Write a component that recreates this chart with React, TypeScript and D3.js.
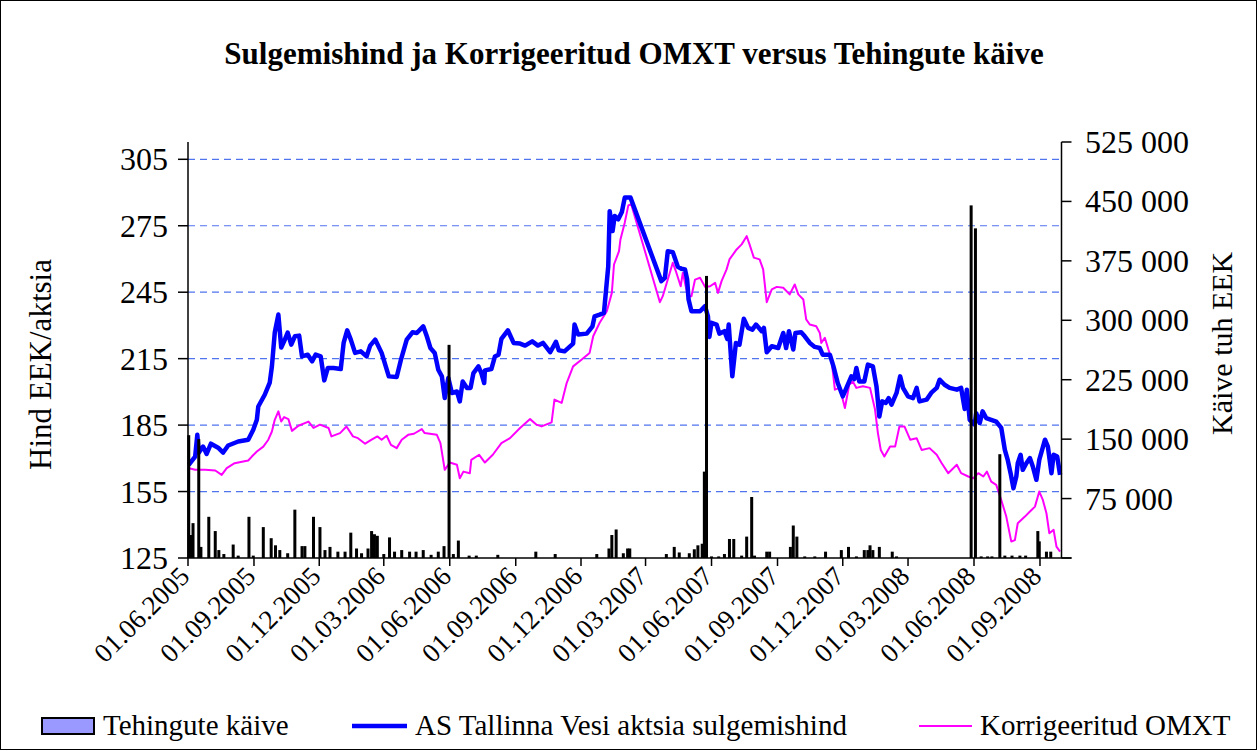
import React, { useEffect, useRef } from 'react';
import * as d3 from 'd3';

// AS Tallinna Vesi closing price, EEK per share
const closingPrice: [string, number][] = [
  ['2005-06-02', 167.1], ['2005-06-11', 170.8], ['2005-06-14', 180.6], ['2005-06-16', 172.5],
  ['2005-06-22', 175.3], ['2005-06-27', 172.0], ['2005-07-03', 176.6], ['2005-07-13', 174.8],
  ['2005-07-20', 172.6], ['2005-07-27', 175.8], ['2005-08-10', 177.6], ['2005-08-24', 178.4],
  ['2005-08-31', 182.9], ['2005-09-05', 187.4], ['2005-09-07', 193.4], ['2005-09-16', 198.7],
  ['2005-09-23', 204.2], ['2005-09-26', 211.5], ['2005-09-30', 226.8], ['2005-10-05', 234.9],
  ['2005-10-09', 220.0], ['2005-10-13', 222.8], ['2005-10-18', 226.8], ['2005-10-23', 221.3],
  ['2005-10-28', 225.1], ['2005-11-03', 225.4], ['2005-11-07', 216.0], ['2005-11-15', 216.8],
  ['2005-11-21', 213.8], ['2005-11-26', 216.8], ['2005-12-03', 216.0], ['2005-12-08', 205.2],
  ['2005-12-13', 210.8], ['2005-12-21', 210.8], ['2005-12-31', 210.3], ['2006-01-04', 222.1],
  ['2006-01-09', 227.8], ['2006-01-14', 223.6], ['2006-01-20', 217.6], ['2006-01-28', 218.3],
  ['2006-02-05', 216.0], ['2006-02-10', 220.9], ['2006-02-17', 223.6], ['2006-02-26', 217.6],
  ['2006-03-08', 207.0], ['2006-03-19', 206.7], ['2006-03-25', 214.6], ['2006-04-02', 223.6],
  ['2006-04-10', 226.9], ['2006-04-16', 226.6], ['2006-04-25', 229.6], ['2006-04-30', 225.1],
  ['2006-05-05', 219.8], ['2006-05-11', 217.6], ['2006-05-16', 210.0], ['2006-05-21', 207.0],
  ['2006-05-25', 197.2], ['2006-05-30', 206.3], ['2006-06-04', 199.5], ['2006-06-11', 200.2],
  ['2006-06-15', 195.7], ['2006-06-19', 204.7], ['2006-06-25', 201.8], ['2006-06-30', 201.8],
  ['2006-07-04', 208.5], ['2006-07-11', 211.5], ['2006-07-15', 208.5], ['2006-07-19', 204.0],
  ['2006-07-20', 209.7], ['2006-07-29', 210.3], ['2006-08-03', 216.0], ['2006-08-08', 216.8],
  ['2006-08-12', 223.9], ['2006-08-21', 227.8], ['2006-08-29', 222.1], ['2006-09-07', 221.8],
  ['2006-09-14', 220.9], ['2006-09-24', 222.8], ['2006-10-02', 220.9], ['2006-10-09', 222.1],
  ['2006-10-19', 217.9], ['2006-10-27', 222.6], ['2006-10-31', 218.8], ['2006-11-08', 218.3],
  ['2006-11-20', 221.8], ['2006-11-22', 230.4], ['2006-11-27', 225.9], ['2006-12-09', 226.3],
  ['2006-12-17', 229.6], ['2006-12-20', 234.1], ['2006-12-27', 234.9], ['2007-01-02', 235.7],
  ['2007-01-05', 246.2], ['2007-01-08', 256.7], ['2007-01-10', 281.6], ['2007-01-14', 272.6],
  ['2007-01-17', 279.4], ['2007-01-22', 277.9], ['2007-01-27', 281.2], ['2007-01-31', 287.7],
  ['2007-02-08', 287.7], ['2007-03-23', 250.0], ['2007-03-28', 251.5], ['2007-04-01', 263.5],
  ['2007-04-08', 263.1], ['2007-04-15', 256.5], ['2007-04-20', 255.6], ['2007-04-25', 255.3],
  ['2007-04-28', 250.7], ['2007-04-30', 241.7], ['2007-05-04', 236.4], ['2007-05-16', 236.4],
  ['2007-05-23', 238.7], ['2007-05-27', 234.1], ['2007-05-29', 224.8], ['2007-06-01', 231.2],
  ['2007-06-08', 230.4], ['2007-06-12', 226.3], ['2007-06-19', 227.4], ['2007-06-23', 223.9],
  ['2007-06-25', 230.4], ['2007-06-30', 207.0], ['2007-07-05', 222.1], ['2007-07-10', 221.3],
  ['2007-07-16', 233.0], ['2007-07-22', 228.9], ['2007-07-28', 228.1], ['2007-08-02', 230.4],
  ['2007-08-10', 227.4], ['2007-08-13', 228.9], ['2007-08-17', 217.9], ['2007-08-24', 220.6],
  ['2007-09-02', 219.8], ['2007-09-09', 226.6], ['2007-09-13', 219.8], ['2007-09-17', 227.4],
  ['2007-09-23', 219.1], ['2007-09-26', 226.6], ['2007-10-04', 226.9], ['2007-10-09', 225.1],
  ['2007-10-16', 222.1], ['2007-10-23', 220.3], ['2007-10-30', 219.8], ['2007-11-03', 216.8],
  ['2007-11-13', 216.8], ['2007-11-18', 211.5], ['2007-11-24', 204.0], ['2007-12-01', 198.0],
  ['2007-12-07', 202.5], ['2007-12-13', 207.0], ['2007-12-17', 205.8], ['2007-12-20', 210.8],
  ['2007-12-24', 204.7], ['2007-12-31', 204.7], ['2008-01-05', 212.3], ['2008-01-12', 211.5],
  ['2008-01-17', 202.5], ['2008-01-21', 188.9], ['2008-01-25', 195.7], ['2008-01-30', 195.0],
  ['2008-02-03', 197.2], ['2008-02-07', 194.2], ['2008-02-14', 199.5], ['2008-02-19', 207.0],
  ['2008-02-23', 201.8], ['2008-03-01', 198.0], ['2008-03-08', 197.2], ['2008-03-13', 201.8],
  ['2008-03-17', 195.7], ['2008-03-27', 196.5], ['2008-04-03', 199.8], ['2008-04-10', 201.8],
  ['2008-04-14', 205.5], ['2008-04-21', 203.2], ['2008-04-28', 201.8], ['2008-05-08', 201.0],
  ['2008-05-14', 201.8], ['2008-05-19', 192.3], ['2008-05-22', 201.0], ['2008-05-26', 187.4],
  ['2008-06-02', 185.2], ['2008-06-04', 190.4], ['2008-06-09', 186.0], ['2008-06-13', 191.2],
  ['2008-06-18', 188.2], ['2008-06-25', 187.4], ['2008-07-02', 186.6], ['2008-07-09', 183.7],
  ['2008-07-14', 173.8], ['2008-07-18', 169.3], ['2008-07-22', 163.3], ['2008-07-26', 156.5],
  ['2008-07-30', 161.8], ['2008-08-01', 167.8], ['2008-08-05', 171.6], ['2008-08-08', 164.8],
  ['2008-08-13', 167.8], ['2008-08-18', 170.1], ['2008-08-22', 166.3], ['2008-08-27', 160.3],
  ['2008-08-31', 169.3], ['2008-09-08', 178.4], ['2008-09-12', 175.3], ['2008-09-17', 163.3],
  ['2008-09-20', 171.6], ['2008-09-25', 170.8], ['2008-09-29', 162.5],
];

// OMXT index rescaled to the share price
const adjustedOmxt: [string, number][] = [
  ['2005-06-01', 165.6], ['2005-06-11', 164.8], ['2005-06-25', 164.8], ['2005-07-09', 164.5],
  ['2005-07-18', 162.5], ['2005-07-25', 165.6], ['2005-08-05', 167.8], ['2005-08-17', 168.6],
  ['2005-08-24', 169.0], ['2005-08-29', 170.8], ['2005-09-05', 173.1], ['2005-09-14', 175.3],
  ['2005-09-21', 178.4], ['2005-09-26', 182.1], ['2005-09-30', 187.4], ['2005-10-05', 191.2],
  ['2005-10-09', 186.6], ['2005-10-13', 188.6], ['2005-10-19', 187.7], ['2005-10-24', 182.4],
  ['2005-11-02', 184.7], ['2005-11-16', 186.6], ['2005-11-23', 183.7], ['2005-12-02', 185.2],
  ['2005-12-14', 183.7], ['2005-12-18', 179.9], ['2005-12-30', 181.4], ['2006-01-08', 184.4],
  ['2006-01-17', 179.9], ['2006-01-24', 179.1], ['2006-02-03', 176.6], ['2006-02-12', 178.4],
  ['2006-02-20', 179.9], ['2006-02-26', 178.4], ['2006-03-05', 180.2], ['2006-03-11', 176.1],
  ['2006-03-19', 174.6], ['2006-03-26', 178.4], ['2006-04-04', 180.6], ['2006-04-12', 181.1],
  ['2006-04-23', 183.2], ['2006-04-27', 181.4], ['2006-05-14', 180.6], ['2006-05-19', 176.9],
  ['2006-05-25', 164.8], ['2006-06-01', 168.1], ['2006-06-11', 167.1], ['2006-06-15', 161.0],
  ['2006-06-20', 164.0], ['2006-06-29', 163.3], ['2006-07-01', 169.3], ['2006-07-12', 171.6],
  ['2006-07-20', 168.1], ['2006-07-31', 171.6], ['2006-08-12', 176.9], ['2006-08-24', 179.1],
  ['2006-09-07', 183.7], ['2006-09-21', 187.7], ['2006-09-30', 185.2], ['2006-10-07', 184.4],
  ['2006-10-21', 186.2], ['2006-10-25', 196.5], ['2006-11-04', 195.0], ['2006-11-11', 204.0],
  ['2006-11-20', 211.5], ['2006-12-02', 214.6], ['2006-12-13', 217.6], ['2006-12-18', 225.1],
  ['2006-12-27', 231.2], ['2007-01-06', 236.4], ['2007-01-13', 244.7], ['2007-01-16', 257.5],
  ['2007-01-23', 263.5], ['2007-01-25', 268.8], ['2007-01-31', 276.4], ['2007-02-05', 284.2],
  ['2007-02-09', 284.7], ['2007-03-21', 240.5], ['2007-03-25', 243.2], ['2007-04-01', 250.7],
  ['2007-04-08', 258.3], ['2007-04-13', 253.8], ['2007-04-19', 247.7], ['2007-04-22', 253.8],
  ['2007-04-29', 243.2], ['2007-05-04', 243.2], ['2007-05-09', 250.7], ['2007-05-16', 251.5],
  ['2007-05-23', 247.4], ['2007-05-30', 247.7], ['2007-06-06', 249.2], ['2007-06-10', 244.7],
  ['2007-06-15', 250.0], ['2007-06-22', 255.3], ['2007-06-26', 259.8], ['2007-07-06', 264.3],
  ['2007-07-13', 266.6], ['2007-07-20', 270.3], ['2007-07-24', 266.6], ['2007-07-30', 260.6],
  ['2007-08-07', 259.8], ['2007-08-12', 255.3], ['2007-08-17', 240.5], ['2007-08-24', 246.3],
  ['2007-08-31', 247.4], ['2007-09-09', 247.0], ['2007-09-18', 244.0], ['2007-09-25', 248.5],
  ['2007-09-30', 244.0], ['2007-10-07', 241.7], ['2007-10-11', 232.7], ['2007-10-16', 230.4],
  ['2007-10-25', 229.6], ['2007-10-30', 226.6], ['2007-11-01', 222.1], ['2007-11-06', 224.4],
  ['2007-11-11', 219.1], ['2007-11-15', 215.3], ['2007-11-20', 201.0], ['2007-11-27', 201.8],
  ['2007-12-04', 192.7], ['2007-12-10', 203.2], ['2007-12-15', 204.7], ['2007-12-20', 201.8],
  ['2007-12-29', 202.5], ['2008-01-08', 201.8], ['2008-01-15', 192.0], ['2008-01-19', 181.4],
  ['2008-01-23', 173.8], ['2008-01-28', 170.8], ['2008-02-05', 175.3], ['2008-02-12', 175.3],
  ['2008-02-18', 184.4], ['2008-02-25', 184.4], ['2008-03-04', 178.4], ['2008-03-13', 179.1],
  ['2008-03-20', 173.8], ['2008-03-31', 174.6], ['2008-04-10', 171.6], ['2008-04-17', 167.8],
  ['2008-04-26', 163.3], ['2008-05-08', 167.1], ['2008-05-14', 163.3], ['2008-05-24', 161.8],
  ['2008-05-31', 161.0], ['2008-06-07', 163.3], ['2008-06-14', 161.8], ['2008-06-19', 164.0],
  ['2008-06-25', 159.5], ['2008-07-02', 158.0], ['2008-07-09', 151.2], ['2008-07-16', 143.7],
  ['2008-07-23', 132.4], ['2008-07-28', 133.1], ['2008-08-01', 140.7], ['2008-08-11', 143.7],
  ['2008-08-18', 146.0], ['2008-08-25', 148.2], ['2008-08-31', 155.0], ['2008-09-05', 151.2],
  ['2008-09-10', 145.2], ['2008-09-14', 136.2], ['2008-09-20', 137.7], ['2008-09-24', 130.1],
  ['2008-09-29', 127.9],
];

// Turnover, thousand EEK
const turnover: [string, number][] = [
  ['2005-06-02', 155000], ['2005-06-05', 29000], ['2005-06-08', 44000], ['2005-06-16', 150000],
  ['2005-06-19', 14000], ['2005-06-30', 52000], ['2005-07-09', 34000], ['2005-07-14', 10000],
  ['2005-07-21', 5000], ['2005-08-03', 17000], ['2005-08-10', 3000], ['2005-08-25', 52000],
  ['2005-08-31', 3000], ['2005-09-14', 39000], ['2005-09-25', 25000], ['2005-10-01', 16000],
  ['2005-10-07', 10000], ['2005-10-18', 6000], ['2005-10-28', 61000], ['2005-11-07', 15000],
  ['2005-11-11', 15000], ['2005-11-23', 52000], ['2005-12-02', 39000], ['2005-12-09', 10000],
  ['2005-12-16', 14000], ['2005-12-27', 8000], ['2006-01-06', 8000], ['2006-01-14', 32000],
  ['2006-01-22', 12000], ['2006-01-29', 6000], ['2006-02-07', 12000], ['2006-02-12', 34000],
  ['2006-02-16', 30000], ['2006-02-20', 28000], ['2006-03-01', 5000], ['2006-03-09', 26000],
  ['2006-03-16', 8000], ['2006-03-26', 10000], ['2006-04-06', 8000], ['2006-04-15', 8000],
  ['2006-04-25', 10000], ['2006-05-06', 4000], ['2006-05-16', 8000], ['2006-05-24', 15000],
  ['2006-05-31', 269000], ['2006-06-06', 5000], ['2006-06-13', 22000], ['2006-06-28', 3000],
  ['2006-07-08', 3000], ['2006-08-07', 4000], ['2006-09-29', 8000], ['2006-10-26', 5000],
  ['2006-12-23', 5000], ['2007-01-09', 12000], ['2007-01-13', 29000], ['2007-01-19', 36000],
  ['2007-01-29', 6000], ['2007-02-04', 12000], ['2007-02-07', 12000], ['2007-03-30', 5000],
  ['2007-04-10', 14000], ['2007-04-17', 7000], ['2007-05-01', 6000], ['2007-05-08', 11000],
  ['2007-05-13', 16000], ['2007-05-19', 18000], ['2007-05-22', 109000], ['2007-05-25', 356000],
  ['2007-06-01', 2000], ['2007-06-11', 2000], ['2007-06-19', 5000], ['2007-06-26', 24000],
  ['2007-07-02', 24000], ['2007-07-13', 3000], ['2007-07-20', 27000], ['2007-07-27', 77000],
  ['2007-07-31', 3000], ['2007-08-17', 8000], ['2007-08-21', 8000], ['2007-09-19', 14000],
  ['2007-09-23', 41000], ['2007-09-28', 27000], ['2007-10-09', 2000], ['2007-10-23', 2000],
  ['2007-11-07', 8000], ['2007-11-29', 10000], ['2007-12-09', 14000], ['2007-12-20', 2000],
  ['2007-12-31', 10000], ['2008-01-05', 10000], ['2008-01-08', 16000], ['2008-01-12', 10000],
  ['2008-01-21', 14000], ['2008-02-08', 8000], ['2008-02-14', 2000], ['2008-05-28', 445000],
  ['2008-06-03', 416000], ['2008-06-11', 2000], ['2008-06-20', 2000], ['2008-06-26', 2000],
  ['2008-07-07', 131000], ['2008-07-14', 3000], ['2008-07-24', 3000], ['2008-08-04', 3000],
  ['2008-08-12', 3000], ['2008-08-29', 34000], ['2008-08-31', 21000], ['2008-09-10', 8000],
  ['2008-09-16', 8000],
];

const xTickLabels = [
  '01.06.2005', '01.09.2005', '01.12.2005', '01.03.2006', '01.06.2006', '01.09.2006', '01.12.2006',
  '01.03.2007', '01.06.2007', '01.09.2007', '01.12.2007', '01.03.2008', '01.06.2008', '01.09.2008',
];
const priceTicks = [125, 155, 185, 215, 245, 275, 305];
const turnoverTicks = [0, 75000, 150000, 225000, 300000, 375000, 450000, 525000];

const FONT = '"Liberation Serif", "Times New Roman", serif';

export default function App() {
  const svgRef = useRef<SVGSVGElement>(null);

  useEffect(() => {
    if (!svgRef.current) return;
    const svg = d3.select(svgRef.current);
    svg.selectAll('*').remove();

    const parseIso = d3.timeParse('%Y-%m-%d');
    const parseDot = d3.timeParse('%d.%m.%Y');

    const left = 188, right = 1061.5, top = 142, bottom = 558;

    const x = d3.scaleTime()
      .domain([parseIso('2005-06-01')!, parseIso('2008-10-01')!])
      .range([left, right]);
    const yPrice = d3.scaleLinear().domain([125, 305]).range([bottom, 159.3]);
    const yTurn = d3.scaleLinear().domain([0, 525000]).range([bottom, top]);

    // outer frame
    svg.append('rect')
      .attr('x', 0.5).attr('y', 0.5)
      .attr('width', 1256).attr('height', 749)
      .attr('fill', 'white').attr('stroke', '#000').attr('stroke-width', 1);

    // title
    svg.append('text')
      .attr('x', 634).attr('y', 64)
      .attr('text-anchor', 'middle')
      .style('font-family', FONT)
      .style('font-size', '31px')
      .style('font-weight', 'bold')
      .text('Sulgemishind ja Korrigeeritud OMXT versus Tehingute käive');

    // grid lines
    svg.append('g')
      .selectAll('line')
      .data(priceTicks.filter(t => t > 125))
      .enter()
      .append('line')
      .attr('x1', left).attr('x2', right)
      .attr('y1', d => yPrice(d)).attr('y2', d => yPrice(d))
      .attr('stroke', '#4f74ee')
      .attr('stroke-width', 1.2)
      .attr('stroke-dasharray', '7 5');

    // lines
    const line = d3.line<[string, number]>()
      .x(d => x(parseIso(d[0])!))
      .y(d => yPrice(d[1]));

    svg.append('path')
      .datum(adjustedOmxt)
      .attr('d', line)
      .attr('fill', 'none')
      .attr('stroke', '#ff00ff')
      .attr('stroke-width', 2)
      .attr('stroke-linejoin', 'round');

    svg.append('path')
      .datum(closingPrice)
      .attr('d', line)
      .attr('fill', 'none')
      .attr('stroke', '#0000ff')
      .attr('stroke-width', 4.5)
      .attr('stroke-linejoin', 'round');

    // turnover bars (secondary axis, drawn on top)
    svg.append('g')
      .selectAll('rect')
      .data(turnover)
      .enter()
      .append('rect')
      .attr('x', d => x(parseIso(d[0])!) - 1.5)
      .attr('width', 3)
      .attr('y', d => yTurn(d[1]))
      .attr('height', d => bottom - yTurn(d[1]))
      .attr('fill', '#000');

    // axes lines
    const axes = svg.append('g').attr('stroke', '#000').attr('stroke-width', 1.5);
    axes.append('line').attr('x1', left).attr('x2', left).attr('y1', top).attr('y2', bottom);
    axes.append('line').attr('x1', right).attr('x2', right).attr('y1', top).attr('y2', bottom);
    axes.append('line').attr('x1', left).attr('x2', right + 10).attr('y1', bottom).attr('y2', bottom);

    // left ticks + labels
    priceTicks.forEach(t => {
      axes.append('line').attr('x1', left - 10).attr('x2', left).attr('y1', yPrice(t)).attr('y2', yPrice(t));
      svg.append('text')
        .attr('x', 168).attr('y', yPrice(t) + 11)
        .attr('text-anchor', 'end')
        .style('font-family', FONT).style('font-size', '32px')
        .text(t);
    });

    // right ticks + labels
    const fmt = (v: number) => d3.format(',')(v).replace(/,/g, ' ');
    turnoverTicks.forEach(t => {
      axes.append('line').attr('x1', right).attr('x2', right + 10).attr('y1', yTurn(t)).attr('y2', yTurn(t));
      if (t === 0) return;
      svg.append('text')
        .attr('x', 1085).attr('y', yTurn(t) + 11)
        .style('font-family', FONT).style('font-size', '32px')
        .text(fmt(t));
    });

    // x ticks + labels
    xTickLabels.forEach(lbl => {
      const px = x(parseDot(lbl)!);
      axes.append('line').attr('x1', px).attr('x2', px).attr('y1', bottom).attr('y2', bottom + 8);
      svg.append('text')
        .attr('transform', `translate(${px + 3},${bottom + 20}) rotate(-45)`)
        .attr('text-anchor', 'end')
        .style('font-family', FONT).style('font-size', '27px')
        .text(lbl);
    });

    // axis titles (left one clipped like the original)
    const defs = svg.append('defs');
    defs.append('clipPath').attr('id', 'clipLeftTitle')
      .append('rect').attr('x', 0).attr('y', 258).attr('width', 100).attr('height', 300);

    svg.append('g').attr('clip-path', 'url(#clipLeftTitle)')
      .append('text')
      .attr('transform', 'translate(51,470) rotate(-90)')
      .style('font-family', FONT).style('font-size', '31px')
      .text('Hind EEK/aktsia');

    svg.append('text')
      .attr('transform', 'translate(1232,435) rotate(-90)')
      .style('font-family', FONT).style('font-size', '30px')
      .text('Käive tuh EEK');

    // legend
    const lg = svg.append('g').style('font-family', FONT).style('font-size', '29px');
    lg.append('rect').attr('x', 42).attr('y', 718).attr('width', 52).attr('height', 16)
      .attr('fill', '#9999ff').attr('stroke', '#000').attr('stroke-width', 2);
    lg.append('text').attr('x', 103).attr('y', 735).text('Tehingute käive');
    lg.append('line').attr('x1', 352).attr('x2', 407).attr('y1', 726).attr('y2', 726)
      .attr('stroke', '#0000ff').attr('stroke-width', 4.5);
    lg.append('text').attr('x', 415).attr('y', 735).text('AS Tallinna Vesi aktsia sulgemishind');
    lg.append('line').attr('x1', 919).attr('x2', 972).attr('y1', 726).attr('y2', 726)
      .attr('stroke', '#ff00ff').attr('stroke-width', 2);
    lg.append('text').attr('x', 980).attr('y', 735).text('Korrigeeritud OMXT');
  }, []);

  return (
    <svg
      ref={svgRef}
      width={1258}
      height={751}
      style={{ position: 'absolute', left: 0, top: 0, background: '#fff' }}
    />
  );
}
